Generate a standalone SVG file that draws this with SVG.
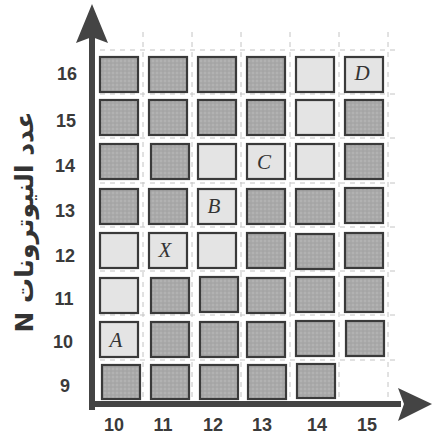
<svg xmlns="http://www.w3.org/2000/svg" width="433" height="437" viewBox="0 0 433 437">
<defs>
<pattern id="tex" width="4" height="4" patternUnits="userSpaceOnUse">
<rect width="4" height="4" fill="#a9a9a9"/>
<circle cx="1" cy="1" r="0.8" fill="#bebebe"/>
<circle cx="3" cy="3" r="0.6" fill="#9a9a9a"/>
</pattern>
</defs>
<style>
.grid line{stroke:#c4c4c4;stroke-width:1;stroke-dasharray:5 5}
.d{fill:url(#tex);stroke:#3a3a3a;stroke-width:2.2}
.l{fill:#e4e4e4;stroke:#3a3a3a;stroke-width:2.2}
.num{font-family:"Liberation Sans",Arial,sans-serif;font-weight:bold;font-size:18px;fill:#3a3a3a;text-anchor:middle}
.let{font-family:"Liberation Serif","Times New Roman",serif;font-style:italic;font-size:21px;fill:#333;text-anchor:middle}
.ax{fill:#444}
</style>
<rect width="433" height="437" fill="#ffffff"/>
<g class="grid">
<line x1="100" y1="50" x2="395" y2="50"/>
<line x1="100" y1="94" x2="395" y2="94"/>
<line x1="100" y1="138" x2="395" y2="138"/>
<line x1="100" y1="183" x2="395" y2="183"/>
<line x1="100" y1="227" x2="395" y2="227"/>
<line x1="100" y1="271" x2="395" y2="271"/>
<line x1="100" y1="315" x2="395" y2="315"/>
<line x1="100" y1="360" x2="395" y2="360"/>
<line x1="143" y1="32" x2="143" y2="400"/>
<line x1="192" y1="32" x2="192" y2="400"/>
<line x1="241" y1="32" x2="241" y2="400"/>
<line x1="290" y1="32" x2="290" y2="400"/>
<line x1="339" y1="32" x2="339" y2="400"/>
<line x1="388" y1="32" x2="388" y2="400"/>
</g>
<g id="cells">
<g id="c10-16"><rect class="d" x="100" y="57" width="38" height="35"/></g>
<g id="c11-16"><rect class="d" x="149" y="57" width="38" height="35"/></g>
<g id="c12-16"><rect class="d" x="198" y="57" width="38" height="35"/></g>
<g id="c13-16"><rect class="d" x="247" y="57" width="38" height="35"/></g>
<g id="c14-16"><rect class="l" x="296" y="57" width="38" height="35"/></g>
<g id="c15-16"><rect class="l" x="345" y="57" width="38" height="35"/><text class="let" x="362" y="80">D</text></g>

<g id="c10-15"><rect class="d" x="100" y="100" width="38" height="35"/></g>
<g id="c11-15"><rect class="d" x="149" y="100" width="38" height="35"/></g>
<g id="c12-15"><rect class="d" x="198" y="100" width="38" height="35"/></g>
<g id="c13-15"><rect class="d" x="247" y="100" width="38" height="35"/></g>
<g id="c14-15"><rect class="l" x="296" y="100" width="38" height="35"/></g>
<g id="c15-15"><rect class="d" x="345" y="100" width="38" height="35"/></g>

<g id="c10-14"><rect class="d" x="100" y="144" width="38" height="35"/></g>
<g id="c11-14"><rect class="d" x="151" y="144" width="38" height="35"/></g>
<g id="c12-14"><rect class="l" x="198" y="144" width="38" height="35"/></g>
<g id="c13-14"><rect class="l" x="247" y="144" width="38" height="35"/><text class="let" x="264" y="169">C</text></g>
<g id="c14-14"><rect class="l" x="296" y="144" width="38" height="35"/></g>
<g id="c15-14"><rect class="d" x="345" y="144" width="38" height="35"/></g>

<g id="c10-13"><rect class="d" x="100" y="189" width="38" height="35"/></g>
<g id="c11-13"><rect class="d" x="149" y="189" width="38" height="35"/></g>
<g id="c12-13"><rect class="l" x="198" y="189" width="38" height="35"/><text class="let" x="214" y="213">B</text></g>
<g id="c13-13"><rect class="d" x="247" y="189" width="38" height="35"/></g>
<g id="c14-13"><rect class="d" x="296" y="189" width="38" height="35"/></g>
<g id="c15-13"><rect class="d" x="345" y="188" width="38" height="35"/></g>

<g id="c10-12"><rect class="l" x="100" y="233" width="38" height="35"/></g>
<g id="c11-12"><rect class="l" x="149" y="233" width="38" height="35"/><text class="let" x="165" y="257">X</text></g>
<g id="c12-12"><rect class="l" x="198" y="233" width="38" height="35"/></g>
<g id="c13-12"><rect class="d" x="247" y="233" width="38" height="35"/></g>
<g id="c14-12"><rect class="d" x="296" y="234" width="38" height="35"/></g>
<g id="c15-12"><rect class="d" x="345" y="233" width="38" height="35"/></g>

<g id="c10-11"><rect class="l" x="100" y="278" width="38" height="35"/></g>
<g id="c11-11"><rect class="d" x="151" y="278" width="38" height="35"/></g>
<g id="c12-11"><rect class="d" x="200" y="277" width="38" height="35"/></g>
<g id="c13-11"><rect class="d" x="247" y="278" width="38" height="35"/></g>
<g id="c14-11"><rect class="d" x="296" y="277" width="38" height="35"/></g>
<g id="c15-11"><rect class="d" x="345" y="277" width="38" height="35"/></g>

<g id="c10-10"><rect class="l" x="100" y="322" width="38" height="35"/><text class="let" x="116" y="347">A</text></g>
<g id="c11-10"><rect class="d" x="151" y="322" width="38" height="35"/></g>
<g id="c12-10"><rect class="d" x="200" y="322" width="38" height="35"/></g>
<g id="c13-10"><rect class="d" x="247" y="322" width="38" height="35"/></g>
<g id="c14-10"><rect class="d" x="296" y="321" width="38" height="35"/></g>
<g id="c15-10"><rect class="d" x="346" y="321" width="38" height="35"/></g>

<g id="c10-9"><rect class="d" x="102" y="365" width="38" height="34"/></g>
<g id="c11-9"><rect class="d" x="151" y="365" width="38" height="34"/></g>
<g id="c12-9"><rect class="d" x="200" y="365" width="38" height="34"/></g>
<g id="c13-9"><rect class="d" x="248" y="365" width="38" height="34"/></g>
<g id="c14-9"><rect class="d" x="297" y="364" width="38" height="34"/></g>
</g>
<g id="axes">
<rect class="ax" x="89" y="36" width="6" height="374"/>
<path class="ax" d="M92,4 L108,43 L92,37 L76,43 Z"/>
<rect class="ax" x="89" y="401" width="312" height="6"/>
<path class="ax" d="M432,404 L398,388 L404,404 L398,421 Z"/>
</g>
<g id="ylabels">
<text class="num" x="67" y="80">16</text>
<text class="num" x="66" y="127">15</text>
<text class="num" x="65" y="172">14</text>
<text class="num" x="65" y="217">13</text>
<text class="num" x="65" y="262">12</text>
<text class="num" x="64" y="305">11</text>
<text class="num" x="63" y="348">10</text>
<text class="num" x="65" y="392">9</text>
</g>
<g id="xlabels">
<text class="num" x="114" y="431">10</text>
<text class="num" x="163" y="431">11</text>
<text class="num" x="213" y="431">12</text>
<text class="num" x="262" y="431">13</text>
<text class="num" x="317" y="431">14</text>
<text class="num" x="367" y="431">15</text>
</g>
<g id="ytitle">
<text transform="translate(33,222) rotate(-90)" direction="rtl" font-family="'DejaVu Sans',sans-serif" font-weight="bold" font-size="25" fill="#333" text-anchor="middle">عدد النيوترونات N</text>
</g>
</svg>
